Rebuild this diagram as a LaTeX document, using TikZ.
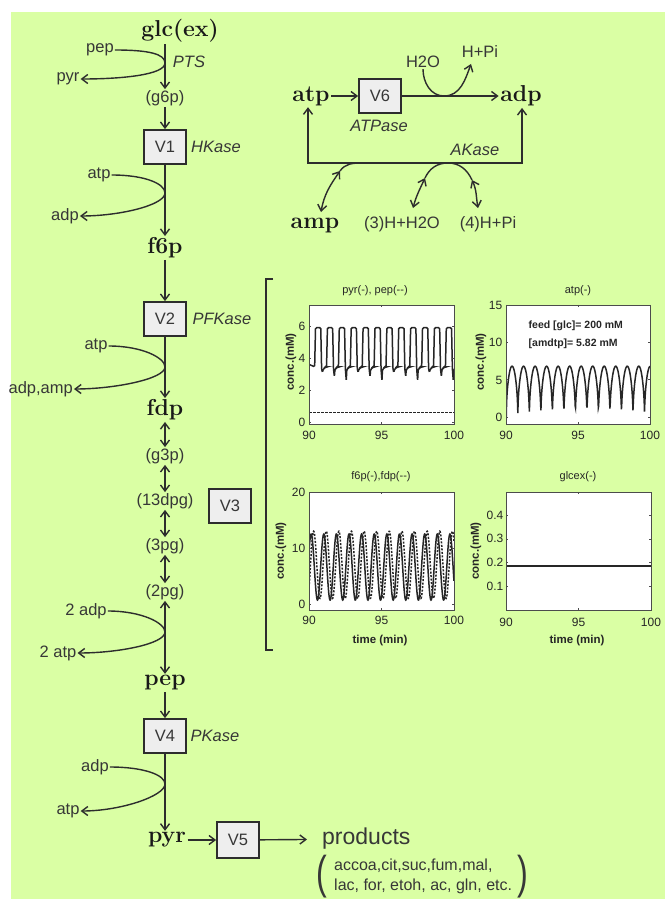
\documentclass[tikz,border=0pt]{standalone}
\usepackage{graphicx}
\usepackage{fontspec}
\newfontfamily\lsans{Liberation Sans}
\usetikzlibrary{arrows.meta}
\definecolor{bg}{RGB}{218,255,164}
\definecolor{ink}{RGB}{45,45,45}
\definecolor{txt}{RGB}{55,55,55}
\definecolor{boxfill}{RGB}{238,238,238}
\tikzset{
  lab/.style={font=\lsans\fontsize{16.5}{18}\selectfont, text=txt, inner sep=1pt},
  enz/.style={font=\lsans\itshape\fontsize{16.5}{18}\selectfont, text=txt, inner sep=1pt},
  met/.style={font=\fontsize{23}{23}\selectfont\bfseries, text=black!90, inner sep=1.5pt},
  vbox/.style={draw=ink, fill=boxfill, line width=1.8pt, minimum width=42pt, minimum height=34pt, inner sep=0pt, font=\lsans\fontsize{16.5}{18}\selectfont, text=txt},
  ln/.style={draw=ink, line width=1.4pt},
  arr/.style={ln, -{Straight Barb[length=6pt,width=9pt]}},
  darr/.style={ln, {Straight Barb[length=6pt,width=9pt]}-{Straight Barb[length=6pt,width=9pt]}},
  loopin/.style={out=0,in=90,out distance=34pt,in distance=9pt},
  loopout/.style={out=-90,in=0,out distance=12pt,in distance=40pt},
  ptxt/.style={font=\lsans\fontsize{12}{13}\selectfont, text=black!85, inner sep=0.5pt},
  ttxt/.style={font=\lsans\fontsize{11}{12}\selectfont, text=black!85, inner sep=0.5pt},
  pbold/.style={font=\lsans\bfseries\fontsize{11.5}{12}\selectfont, text=black!85, inner sep=0.5pt},
  pax/.style={draw=black!70, line width=0.8pt},
  pcurve/.style={draw=black!85, line width=1.5pt},
}
\begin{document}
\begin{tikzpicture}[x=1pt,y=-1pt]
\useasboundingbox (0,0) rectangle (665,904);
\fill[white] (0,0) rectangle (665,904);
\fill[bg] (11,12) rectangle (665,899);

% ---------------- main column ----------------
\node[met] (glc) at (180,31) {glc(ex)};
\node[lab] (pepA) at (100,50) {pep};
\node[lab] (pyrA) at (68,79) {pyr};
\node[enz] (PTS) at (189,62) {PTS};
\coordinate (pts) at (165,63);
\node[lab] (g6p) at (165,98) {(g6p)};
\node[vbox] (V1) at (165,147) {V1};
\node[enz] (HK) at (216,147) {HKase};
\node[lab] (atpA) at (99,175) {atp};
\node[lab] (adpA) at (65,216) {adp};
\coordinate (hk) at (165,193);
\node[met] (f6p) at (165,248) {f6p};
\node[vbox] (V2) at (165,319) {V2};
\node[enz] (PFK) at (222,319) {PFKase};
\node[lab] (atpB) at (96,346) {atp};
\node[lab, anchor=east] (adpamp) at (74,389) {adp,amp};
\coordinate (pf) at (165,367);
\node[met] (fdp) at (165,410) {fdp};
\node[lab] (g3p) at (165,456) {(g3p)};
\node[lab] (dpg) at (165,501) {(13dpg)};
\node[vbox] (V3) at (230,506) {V3};
\node[lab] (pg3) at (165,546) {(3pg)};
\node[lab] (pg2) at (165,592) {(2pg)};
\node[lab] (adpC) at (86,611) {2 adp};
\node[lab] (atpC) at (58,653) {2 atp};
\coordinate (gk) at (165,632);
\node[met] (pep) at (165,683) {pep};
\node[vbox] (V4) at (165,736) {V4};
\node[enz] (PK) at (215,736) {PKase};
\node[lab] (adpD) at (95,767) {adp};
\node[lab] (atpD) at (68,811) {atp};
\coordinate (pk) at (165,784);
\node[met] (pyr) at (167,840) {pyr};
\node[vbox, minimum height=36pt] (V5) at (238,840) {V5};
\node[lab, font=\lsans\fontsize{23}{24}\selectfont, anchor=west] (prod) at (321,839) {products};
\node[lab, anchor=west, align=left, font=\lsans\fontsize{16}{20}\selectfont] (plist) at (333,876) {accoa,cit,suc,fum,mal,\\lac, for, etoh, ac, gln, etc.};
\node[lab, font=\lsans\fontsize{46}{46}\selectfont] (lpar) at (322,877) {\scalebox{0.7}[1]{(}};
\node[lab, font=\lsans\fontsize{46}{46}\selectfont] (rpar) at (523,877) {\scalebox{0.7}[1]{)}};

\draw[arr] (glc.south -| g6p.north) -- (g6p.north);
\draw[arr] (pepA.east) to[loopin] (pts) to[loopout] (pyrA.east);
\draw[arr] (g6p) -- (V1);
\draw[arr] (V1) -- (f6p);
\draw[arr] (atpA.east) to[loopin] (hk) to[loopout] (adpA.east);
\draw[arr] (f6p) -- (V2);
\draw[arr] (V2) -- (fdp);
\draw[arr] (atpB.east) to[loopin] (pf) to[loopout] (adpamp.east);
\draw[darr] (fdp) -- (g3p);
\draw[darr] (g3p) -- (dpg);
\draw[darr] (dpg) -- (pg3);
\draw[darr] (pg3) -- (pg2);
\draw[darr] (pg2) -- (pep);
\draw[arr] (adpC.east) to[loopin] (gk) to[loopout] (atpC.east);
\draw[arr] (pep) -- (V4);
\draw[arr] (V4.south) -- (V4.south |- pyr.north);
\draw[arr] (adpD.east) to[loopin] (pk) to[loopout] (atpD.east);
\draw[arr] (pyr) -- (V5);
\draw[arr, shorten >=14pt] (V5) -- (prod);

% ---------------- top right ----------------
\node[met] (atpT) at (311,96) {atp};
\node[vbox] (V6) at (380,96) {V6};
\node[met] (adpT) at (521,96) {adp};
\node[enz] (ATP) at (379,126) {ATPase};
\node[lab] (H2O) at (423,62) {H2O};
\node[lab] (HPi) at (480,52) {H+Pi};
\draw[arr] (atpT) -- (V6);
\draw[arr] (V6) -- (adpT);
\coordinate (w1) at (444,96);
\coordinate (w2) at (471,64);
\draw[arr] (H2O.south) to[out=-90,in=180] (w1) to[out=0,in=-110] (w2);

\coordinate (akL) at (308,163);
\coordinate (akR) at (522,163);
\draw[darr] (akL |- atpT.south) -- (akL) -- (akR) -- (akR |- adpT.south);
\node[enz] (AK) at (475,150) {AKase};
\node[met] (amp) at (315,226) {amp};
\node[lab] (H3) at (402,224) {(3)H+H2O};
\node[lab] (H4) at (488,224) {(4)H+Pi};
\coordinate (a0) at (321,212);
\coordinate (a1) at (340,171);
\coordinate (a2) at (362,163);
\draw[darr] (a0) to[out=80,in=235] (a1);
\draw[ln] (a1) to[out=55,in=180] (a2);
\coordinate (b0) at (413,208);
\coordinate (b1) at (425,178);
\coordinate (b2) at (448,163);
\coordinate (b3) at (472,180);
\coordinate (b4) at (478,208);
\draw[darr] (b0) to[out=75,in=245] (b1);
\draw[ln] (b1) to[out=65,in=180] (b2) to[out=0,in=115] (b3);
\draw[darr] (b3) to[out=-65,in=100] (b4);

% ---------------- bracket ----------------
\draw[ln, line width=1.2pt] (273,279) -- (266,279) -- (266,650) -- (273,650);

% ---------------- plot 1 ----------------
\begin{scope}[shift={(309,422)}, x=14.5pt, y=16pt]
\fill[white] (0,-0.125) rectangle (10,7.3125);
\begin{scope}
\clip (0,-0.125) rectangle (10,7.3125);
\draw[pcurve, rounded corners=1.2pt] (0,3.6) \foreach \k in {0,...,11} { -- ({0.39+\k*0.82},3.45) -- ({0.45+\k*0.82},5.9) -- ({0.81+\k*0.82},5.9) -- ({0.87+\k*0.82},3.3) -- ({0.93+\k*0.82},{3.1-0.25*mod(\k,3)}) -- ({0.97+\k*0.82},3.3) -- ({1.2+\k*0.82},3.45) };
\draw[pcurve, line width=1.2pt, dash pattern=on 2.5pt off 1.5pt] (0,0.6) -- (10,0.6);
\end{scope}
\draw[pax] (0,-0.125) rectangle (10,7.3125);
\foreach \t in {0,5,10} { \draw[pax] (\t,-0.125) -- ++(0pt,2pt) (\t,7.3125) -- ++(0pt,-2pt); }
\foreach \v in {0,2,4,6} { \draw[pax] (0,\v) -- ++(2pt,0pt) (10,\v) -- ++(-2pt,0pt); }
\end{scope}
\node[ttxt] (ti1) at (375,291) {pyr(-), pep(--)};
\node[pbold, rotate=90] (yl1) at (291,362) {conc.(mM)};
\foreach \v/\y in {0/422,2/390,4/358,6/326} \node[ptxt, anchor=east] (ya\v) at (306,\y) {\v};
\foreach \l/\x in {90/309,95/381.5,100/454} \node[ptxt] (xa\l) at (\x,435) {\l};

% ---------------- plot 2 ----------------
\begin{scope}[shift={(506,417)}, x=14.4pt, y=7.47pt]
\fill[white] (0,-0.94) rectangle (10,15);
\begin{scope}
\clip (0,-0.94) rectangle (10,15);
\draw[pcurve] plot[domain=0:10, samples=500] (\x, {6.8*sqrt(abs(cos(180*(\x-0.42)/0.8)))});
\end{scope}
\draw[pax] (0,-0.94) rectangle (10,15);
\foreach \t in {0,5,10} { \draw[pax] (\t,-0.94) -- ++(0pt,2pt) (\t,15) -- ++(0pt,-2pt); }
\foreach \v in {0,5,10,15} { \draw[pax] (0,\v) -- ++(2pt,0pt) (10,\v) -- ++(-2pt,0pt); }
\end{scope}
\node[ttxt] (ti2) at (578,291) {atp(-)};
\node[pbold, rotate=90] (yl2) at (481,362) {conc.(mM)};
\foreach \v/\y in {0/417,5/380,10/342,15/305} \node[ptxt, anchor=east] (yb\v) at (503,\y) {\v};
\foreach \l/\x in {90/506,95/578,100/650} \node[ptxt] (xb\l) at (\x,435) {\l};
\node[pbold, anchor=west, font=\lsans\bfseries\fontsize{10.5}{12}\selectfont] (ann1) at (528,326) {feed [glc]= 200 mM};
\node[pbold, anchor=west, font=\lsans\bfseries\fontsize{10.5}{12}\selectfont] (ann2) at (528,344) {[amdtp]= 5.82 mM};

% ---------------- plot 3 ----------------
\begin{scope}[shift={(309,604)}, x=14.5pt, y=5.6pt]
\fill[white] (0,-1.07) rectangle (10,20);
\begin{scope}
\clip (0,-1.07) rectangle (10,20);
\draw[pcurve] plot[domain=0:10, samples=500] (\x, {6.6+5.9*cos(360*(\x-0.15)/0.87)});
\draw[pcurve, dash pattern=on 2pt off 1.5pt] plot[domain=0:10, samples=500] (\x, {7+6*cos(360*(\x-0.32)/0.87)});
\end{scope}
\draw[pax] (0,-1.07) rectangle (10,20);
\foreach \t in {0,5,10} { \draw[pax] (\t,-1.07) -- ++(0pt,2pt) (\t,20) -- ++(0pt,-2pt); }
\foreach \v in {0,10,20} { \draw[pax] (0,\v) -- ++(2pt,0pt) (10,\v) -- ++(-2pt,0pt); }
\end{scope}
\node[ttxt] (ti3) at (381,477) {f6p(-),fdp(--)};
\node[pbold, rotate=90] (yl3) at (281,551) {conc.(mM)};
\foreach \v/\y in {0/604,10/548,20/492} \node[ptxt, anchor=east] (yc\v) at (306,\y) {\v};
\foreach \l/\x in {90/309,95/381.5,100/454} \node[ptxt] (xc\l) at (\x,620) {\l};
\node[pbold] (tm3) at (380,641) {time (min)};

% ---------------- plot 4 ----------------
\begin{scope}[shift={(506,610)}, x=14.5pt, y=236pt]
\fill[white] (0,0) rectangle (10,0.5);
\draw[pcurve, line width=1.8pt] (0,0.186) -- (10,0.186);
\draw[pax] (0,0) rectangle (10,0.5);
\foreach \t in {0,5,10} { \draw[pax] (\t,0) -- ++(0pt,2pt) (\t,0.5) -- ++(0pt,-2pt); }
\foreach \v in {0.1,0.2,0.3,0.4} { \draw[pax] (0,\v) -- ++(2pt,0pt) (10,\v) -- ++(-2pt,0pt); }
\end{scope}
\node[ttxt] (ti4) at (578,477) {glcex(-)};
\node[pbold, rotate=90] (yl4) at (476,551) {conc.(mM)};
\foreach \v/\y in {1/586,2/562,3/538,4/515} \node[ptxt, anchor=east] (yd\v) at (504,\y) {0.\v};
\foreach \l/\x in {90/506,95/578.5,100/651} \node[ptxt] (xd\l) at (\x,622) {\l};
\node[pbold] (tm4) at (577,641) {time (min)};
\end{tikzpicture}
\end{document}
